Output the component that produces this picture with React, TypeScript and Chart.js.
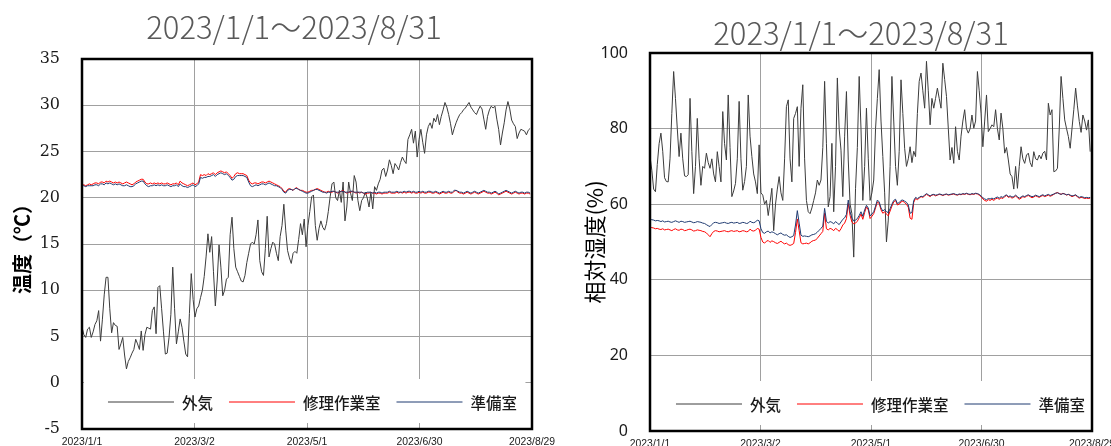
import React, { useEffect, useRef } from 'react';
import { Chart, registerables } from 'chart.js';

Chart.register(...registerables);

// ---------- data ----------
const chartTitle = '2023/1/1～2023/8/31';
const xTickLabels = ['2023/1/1', '2023/3/2', '2023/5/1', '2023/6/30', '2023/8/29'];
const xTickStepDays = 60;
const seriesNames = ['外気', '修理作業室', '準備室'];
const tempAxisTitle = '温度（℃）';
const rhAxisTitle = '相対湿度(%)';

// daily temperature (°C), 2023/1/1 .. 2023/8/31
const tempOutside = [
  6.0, 5.2, 4.9, 5.8, 6.0, 4.9, 5.5, 6.3, 6.7, 7.8,
  4.5, 6.8, 9.5, 11.4, 11.4, 8.0, 5.4, 6.5, 6.2, 6.1,
  3.6, 4.2, 4.9, 3.0, 1.5, 2.3, 2.7, 3.2, 3.6, 4.7,
  4.2, 3.6, 5.6, 3.5, 5.2, 6.0, 5.9, 5.8, 7.8, 8.2,
  5.3, 10.3, 10.5, 8.0, 5.5, 3.1, 3.2, 4.9, 7.4, 12.5,
  8.0, 4.2, 5.5, 6.9, 6.0, 4.5, 3.1, 2.8, 7.5, 11.8,
  9.0, 7.1, 8.0, 8.3, 9.2, 10.0, 11.5, 13.6, 16.1, 14.1,
  15.8, 12.0, 8.3, 11.0, 14.9, 12.5, 9.4, 10.0, 11.2, 11.4,
  16.0, 17.9, 14.5, 12.5, 12.0, 11.5, 11.0, 10.9, 11.6, 13.0,
  14.0, 15.0, 15.2, 15.0, 16.0, 17.6, 13.2, 12.0, 11.6, 14.5,
  18.0, 13.6, 14.5, 15.2, 15.0, 14.0, 13.2, 15.8, 17.0, 19.3,
  16.5, 14.3, 13.5, 12.9, 14.0, 14.2, 14.0, 15.5, 17.2, 16.0,
  17.7, 14.7, 17.0, 18.5, 20.1, 20.3, 17.0, 15.4, 16.7, 17.5,
  16.8, 16.5, 17.2, 18.5, 20.1, 21.5, 21.7, 20.0, 19.7, 20.8,
  19.5, 21.7, 17.5, 19.0, 21.7, 20.5, 19.7, 22.4, 21.7, 19.7,
  18.6, 19.7, 20.0, 20.6, 20.0, 19.0, 20.6, 18.8, 21.2, 20.8,
  21.5, 22.0, 23.0, 23.2, 22.3, 23.0, 24.1, 23.5, 22.6, 23.7,
  23.4, 23.0, 23.8, 24.4, 24.0, 23.7, 26.3, 26.8, 27.4, 25.9,
  27.2, 24.4, 26.3, 27.4, 26.0, 24.8, 26.8, 27.7, 28.1, 27.5,
  28.6, 28.2, 29.0, 27.9, 28.8, 29.5, 30.3, 29.8, 29.0, 28.0,
  26.8, 27.5, 28.1, 28.6, 29.0, 29.2, 29.5, 29.7, 30.0, 30.3,
  29.8, 29.5, 29.2, 29.0, 29.5, 29.9, 29.6, 28.5, 27.4, 28.8,
  29.5, 29.9, 29.7, 29.9, 28.5, 27.4, 25.7, 27.0, 28.1, 29.5,
  30.4, 29.6, 28.4, 28.0, 27.7, 26.4, 27.0, 27.4, 27.3, 27.2,
  26.8, 27.3, 27.5,
];

const tempRepair = [
  21.4, 21.4, 21.3, 21.4, 21.5, 21.4, 21.5, 21.6, 21.6, 21.5,
  21.7, 21.7, 21.6, 21.8, 21.7, 21.8, 21.7, 21.6, 21.7, 21.6,
  21.7, 21.6, 21.5, 21.6, 21.7, 21.6, 21.5, 21.4, 21.5, 21.7,
  21.8, 21.9, 22.0, 22.0, 21.7, 21.5, 21.5, 21.6, 21.5, 21.6,
  21.5, 21.6, 21.5, 21.6, 21.5, 21.5, 21.6, 21.5, 21.4, 21.5,
  21.5, 21.6, 21.4, 21.8, 21.6, 21.5, 21.4, 21.3, 21.4, 21.5,
  21.6, 21.4, 21.5, 21.7, 22.5, 22.4, 22.5, 22.4, 22.6, 22.5,
  22.6, 22.7, 22.5, 22.7, 22.8, 22.9, 22.8, 22.7, 22.8, 22.6,
  22.4, 22.1, 22.3, 22.6, 22.7, 22.6, 22.6, 22.6, 22.5, 22.4,
  21.9, 21.6, 21.5, 21.6, 21.6, 21.5, 21.6, 21.7, 21.7, 21.6,
  21.7, 21.8, 21.7, 21.6, 21.5, 21.4, 21.3, 21.2, 21.0, 20.7,
  20.6, 20.9, 21.0, 20.9, 20.8, 21.0, 21.1, 20.9, 20.8, 20.8,
  20.7, 20.6, 20.6, 20.7, 20.8, 20.8, 20.9, 21.0, 20.9, 20.8,
  20.7, 20.6, 20.6, 20.7, 20.6, 20.6, 20.7, 20.6, 20.5, 20.6,
  20.7, 20.8, 20.6, 20.5, 20.6, 20.6, 20.7, 20.6, 20.5, 20.6,
  20.5, 20.6, 20.5, 20.4, 20.5, 20.5, 20.6, 20.5, 20.5, 20.4,
  20.5, 20.5, 20.4, 20.5, 20.5, 20.5, 20.6, 20.5, 20.5, 20.5,
  20.6, 20.5, 20.6, 20.5, 20.6, 20.5, 20.6, 20.6, 20.5, 20.6,
  20.5, 20.5, 20.6, 20.5, 20.6, 20.5, 20.5, 20.6, 20.6, 20.5,
  20.5, 20.6, 20.5, 20.4, 20.5, 20.6, 20.5, 20.5, 20.6, 20.5,
  20.5, 20.7, 20.8, 20.6, 20.5, 20.5, 20.4, 20.5, 20.6, 20.5,
  20.4, 20.5, 20.6, 20.5, 20.4, 20.5, 20.6, 20.7, 20.6, 20.5,
  20.5, 20.4, 20.5, 20.6, 20.5, 20.3, 20.4, 20.5, 20.6, 20.7,
  20.6, 20.5, 20.4, 20.5, 20.6, 20.5, 20.4, 20.5, 20.5, 20.4,
  20.5, 20.5, 20.4,
];

const tempPrep = [
  21.3, 21.3, 21.2, 21.3, 21.3, 21.3, 21.3, 21.4, 21.4, 21.3,
  21.5, 21.5, 21.4, 21.6, 21.5, 21.6, 21.5, 21.4, 21.5, 21.4,
  21.5, 21.4, 21.3, 21.3, 21.4, 21.3, 21.2, 21.2, 21.3, 21.5,
  21.6, 21.7, 21.8, 21.8, 21.5, 21.3, 21.2, 21.3, 21.3, 21.4,
  21.3, 21.4, 21.3, 21.4, 21.3, 21.3, 21.4, 21.3, 21.2, 21.3,
  21.3, 21.4, 21.2, 21.5, 21.3, 21.2, 21.2, 21.1, 21.2, 21.3,
  21.4, 21.2, 21.3, 21.5, 22.2, 22.1, 22.2, 22.2, 22.3, 22.3,
  22.4, 22.5, 22.3, 22.5, 22.6, 22.7, 22.6, 22.5, 22.6, 22.4,
  22.2, 21.9, 22.0, 22.3, 22.4, 22.4, 22.4, 22.4, 22.3, 22.2,
  21.7, 21.3, 21.2, 21.3, 21.4, 21.3, 21.4, 21.5, 21.5, 21.4,
  21.5, 21.6, 21.5, 21.4, 21.3, 21.3, 21.2, 21.1, 20.9, 20.6,
  20.5, 20.8, 20.9, 20.9, 20.8, 21.0, 21.0, 20.9, 20.8, 20.7,
  20.6, 20.5, 20.5, 20.6, 20.7, 20.8, 20.9, 20.9, 20.8, 20.7,
  20.6, 20.6, 20.5, 20.6, 20.6, 20.7, 20.7, 20.6, 20.6, 20.6,
  20.7, 20.7, 20.6, 20.6, 20.6, 20.7, 20.7, 20.6, 20.6, 20.6,
  20.6, 20.6, 20.5, 20.5, 20.6, 20.6, 20.6, 20.5, 20.6, 20.5,
  20.6, 20.6, 20.5, 20.6, 20.6, 20.6, 20.7, 20.6, 20.6, 20.6,
  20.7, 20.6, 20.6, 20.6, 20.7, 20.6, 20.7, 20.7, 20.6, 20.7,
  20.6, 20.6, 20.7, 20.6, 20.7, 20.6, 20.6, 20.7, 20.7, 20.6,
  20.6, 20.7, 20.6, 20.5, 20.6, 20.7, 20.6, 20.6, 20.7, 20.6,
  20.6, 20.8, 20.8, 20.7, 20.6, 20.6, 20.5, 20.6, 20.7, 20.6,
  20.5, 20.6, 20.7, 20.6, 20.5, 20.6, 20.7, 20.8, 20.7, 20.6,
  20.6, 20.5, 20.6, 20.7, 20.6, 20.4, 20.5, 20.6, 20.7, 20.8,
  20.7, 20.6, 20.5, 20.6, 20.7, 20.6, 20.5, 20.6, 20.6, 20.5,
  20.6, 20.6, 20.5,
];

// daily relative humidity (%), 2023/1/1 .. 2023/8/31
const rhOutside = [
  72.6, 69.0, 64.0, 63.3, 70.5, 76.0, 78.8, 74.0, 67.0, 66.0,
  65.9, 72.0, 84.0, 95.1, 88.0, 80.0, 72.6, 78.8, 72.0, 67.5,
  67.3, 67.8, 88.0, 74.0, 62.8, 70.0, 82.7, 72.0, 65.0, 70.0,
  69.5, 73.5, 71.0, 69.5, 72.0, 68.0, 65.9, 73.9, 70.0, 65.9,
  84.5, 76.0, 71.7, 88.9, 75.0, 62.0, 63.5, 65.5, 72.0, 87.2,
  72.0, 63.7, 66.0, 70.0, 88.9, 78.0, 72.6, 68.0, 65.9, 62.8,
  75.7, 63.0, 62.4, 60.0, 61.0, 57.0, 60.5, 64.2, 53.0, 60.0,
  64.0, 67.3, 63.0, 61.0, 72.0, 85.8, 87.6, 72.0, 65.9, 82.7,
  84.0, 85.8, 70.0, 85.4, 91.6, 72.0, 61.0, 58.0, 57.5, 59.0,
  61.0, 63.0, 66.4, 65.0, 66.4, 75.0, 92.5, 76.0, 59.3, 62.0,
  76.1, 58.0, 70.0, 93.4, 80.0, 74.3, 62.0, 78.0, 89.8, 71.7,
  60.0, 57.5, 46.0, 64.2, 75.0, 93.8, 80.0, 61.0, 70.0, 85.4,
  72.0, 61.0, 63.0, 66.4, 80.0, 88.0, 95.6, 82.0, 72.6, 63.0,
  50.0, 55.8, 70.0, 93.8, 82.0, 70.0, 65.0, 74.0, 92.9, 84.0,
  74.8, 70.0, 72.0, 75.2, 71.0, 74.0, 72.6, 84.0, 92.5, 94.7,
  90.0, 85.4, 97.8, 90.0, 81.0, 88.0, 85.4, 88.0, 90.7, 88.0,
  85.4, 97.3, 93.0, 88.5, 80.0, 71.7, 75.0, 70.8, 80.5, 74.0,
  71.7, 78.0, 82.0, 85.0, 80.0, 78.8, 80.0, 83.6, 80.1, 82.0,
  95.1, 90.0, 84.1, 75.2, 82.0, 88.9, 79.2, 80.0, 81.0, 80.5,
  85.0, 80.0, 77.0, 84.1, 80.0, 73.5, 75.0, 71.7, 68.0, 67.3,
  64.0, 70.0, 64.2, 70.0, 75.2, 72.0, 70.8, 73.0, 73.5, 71.0,
  69.9, 73.9, 72.0, 71.7, 73.0, 72.0, 73.5, 74.0, 71.7, 86.7,
  83.6, 85.0, 68.6, 68.8, 69.5, 80.0, 93.8, 88.0, 82.3, 80.0,
  77.9, 74.8, 80.0, 85.0, 90.7, 86.0, 81.9, 79.0, 83.6, 82.0,
  79.6, 82.3, 73.9,
];

const rhRepair = [
  53.9, 53.8, 53.7, 53.5, 53.6, 53.4, 53.3, 53.5, 53.2, 53.3,
  53.4, 53.2, 53.0, 53.3, 53.5, 53.2, 53.1, 53.4, 53.3, 53.0,
  53.1, 53.3, 53.4, 53.2, 52.9, 53.0, 53.2, 53.1, 53.0, 52.8,
  52.7, 52.4, 51.9, 51.4, 52.2, 52.8, 53.0, 52.9, 52.7, 52.8,
  52.9, 53.0, 52.8, 52.7, 52.9, 53.0, 52.8, 52.9, 53.0, 52.7,
  52.8, 53.0, 52.9, 52.7, 52.8, 53.4, 53.0, 52.9, 53.1, 53.6,
  53.4, 51.2, 50.0, 49.7, 50.2, 50.4, 49.9, 50.3, 50.1, 49.8,
  49.6, 49.9, 50.2, 49.8, 49.5, 49.7, 49.3, 49.1, 49.3, 49.6,
  52.5, 56.1, 53.0, 49.8, 49.5, 49.6, 49.7, 49.5, 49.8, 50.2,
  50.4, 50.5, 51.0, 51.6, 52.2, 52.8, 57.6, 53.5, 53.2, 53.6,
  53.4, 53.0, 53.6, 53.3, 52.8, 53.5, 54.5, 55.0, 56.2, 60.2,
  57.0, 55.3, 54.8, 55.0, 55.5, 56.4, 57.4, 56.0, 57.8, 59.3,
  58.5, 56.2, 56.8, 57.5, 59.0, 60.6, 60.2, 58.5, 57.6, 58.0,
  57.4, 56.9, 58.2, 59.5, 60.6, 61.0, 59.8, 60.0, 60.6, 60.8,
  60.4, 60.0, 59.2, 56.3, 56.0, 60.5, 61.5, 61.2, 61.6, 62.0,
  61.8, 62.2, 62.6, 62.3, 62.0, 62.4, 62.5, 62.2, 62.4, 62.6,
  62.5, 62.3, 62.5, 62.6, 62.4, 62.5, 62.6, 62.7, 62.5, 62.4,
  62.6, 62.5, 62.7, 62.6, 62.8, 62.6, 62.5, 62.7, 62.6, 62.8,
  62.7, 62.4, 62.0, 61.4, 61.0, 60.8, 61.2, 61.0, 61.3, 61.0,
  61.4, 61.6, 61.3, 61.7, 61.5, 62.0, 62.3, 61.8, 62.0, 61.6,
  61.8, 62.2, 61.7, 61.3, 61.6, 62.0, 61.8, 62.1, 62.3, 62.0,
  61.7, 61.9, 62.2, 62.0, 61.8, 62.1, 62.3, 62.0, 62.2, 62.4,
  62.1, 62.3, 62.6, 62.9, 63.1, 62.8, 62.6, 62.9, 62.7, 62.4,
  62.6, 62.3, 62.0, 62.2, 62.4, 61.9, 61.6, 61.8, 61.7, 61.5,
  61.6, 61.5, 61.6,
];

const rhPrep = [
  56.0, 55.9, 55.8, 55.6, 55.7, 55.6, 55.4, 55.6, 55.3, 55.4,
  55.5, 55.3, 55.2, 55.4, 55.6, 55.4, 55.2, 55.5, 55.4, 55.2,
  55.3, 55.4, 55.5, 55.3, 55.1, 55.2, 55.4, 55.3, 55.2, 55.0,
  54.9, 54.6, 54.3, 54.1, 54.6, 55.1, 55.2, 55.1, 54.9, 55.0,
  55.1, 55.2, 55.0, 54.9, 55.1, 55.2, 55.0, 55.1, 55.2, 54.9,
  55.0, 55.2, 55.1, 54.9, 55.0, 55.5, 55.2, 55.1, 55.3, 55.8,
  55.6, 53.5, 52.5, 52.3, 52.7, 52.9, 52.4, 52.7, 52.5, 52.2,
  51.9, 52.2, 52.4, 52.0, 51.8, 51.9, 51.5, 51.2, 51.4, 51.7,
  54.5, 58.3, 55.0, 51.8, 51.5, 51.6, 51.5, 51.4, 51.6, 51.9,
  52.0, 52.2, 52.6, 53.1, 53.6, 54.2, 58.9, 55.5, 55.0, 55.4,
  55.2, 54.8, 55.4, 55.0, 54.6, 55.3, 56.0, 56.4, 57.3, 61.1,
  58.0, 56.3, 55.6, 55.8, 56.2, 57.0, 58.0, 56.8, 58.5, 59.7,
  59.0, 56.9, 57.4, 58.0, 59.5, 61.1, 60.6, 59.0, 58.2, 58.6,
  58.0, 57.8, 58.8, 60.0, 61.0, 61.3, 60.2, 60.4, 61.0, 61.1,
  60.8, 60.5, 59.8, 57.6, 57.8, 61.0, 61.8, 61.5, 61.8, 62.1,
  62.0, 62.4, 62.8, 62.5, 62.2, 62.5, 62.6, 62.4, 62.5, 62.7,
  62.6, 62.4, 62.6, 62.7, 62.5, 62.6, 62.7, 62.8, 62.6, 62.5,
  62.7, 62.6, 62.8, 62.7, 62.9, 62.7, 62.6, 62.8, 62.7, 62.9,
  62.8, 62.6, 62.2, 61.7, 61.4, 61.2, 61.5, 61.4, 61.6, 61.4,
  61.7, 61.9, 61.6, 62.0, 61.8, 62.2, 62.5, 62.0, 62.2, 61.9,
  62.0, 62.4, 62.0, 61.6, 61.9, 62.2, 62.0, 62.3, 62.5, 62.2,
  62.0, 62.1, 62.4, 62.2, 62.0, 62.3, 62.5, 62.2, 62.4, 62.6,
  62.3, 62.5, 62.7, 62.9, 63.0, 62.8, 62.6, 62.8, 62.7, 62.5,
  62.6, 62.4, 62.2, 62.3, 62.5, 62.1, 61.8, 62.0, 61.9, 61.7,
  61.8, 61.7, 61.8,
];

const tempAxisRange = [-5, 35, 5];
const rhAxisRange = [0, 100, 20];
const xAxisMaxDays = 243;

// ---------- styling ----------
const lineColors = ['#3c3c3c', '#ff0000', '#1f3a70'];
const legendFont = '500 15.5px "Noto Sans CJK JP", sans-serif';

const insideLegend = {
  id: 'insideLegend',
  beforeDatasetsDraw(chart: any) {
    const { ctx, chartArea: a, scales } = chart;
    const xr = scales.x.getPixelForValue(xTickStepDays * (xTickLabels.length - 1));
    const top = a.bottom - 50;
    const bot = a.bottom - 6;
    ctx.save();
    ctx.fillStyle = '#ffffff';
    ctx.fillRect(a.left + 2, top, xr - 1 - (a.left + 2), bot - top);
    ctx.font = legendFont;
    const names = chart.data.datasets.map((d: any) => d.label);
    const widths = names.map((n: string) => ctx.measureText(n).width);
    const lineLen = 66;
    const gapText = 8;
    const gapItem = 16;
    const total = names.length * (lineLen + gapText) + widths.reduce((s: number, w: number) => s + w, 0) + gapItem * (names.length - 1);
    let x = a.left + 435 - total;
    const y = Math.round(a.bottom - 27);
    ctx.textBaseline = 'middle';
    ctx.textAlign = 'left';
    names.forEach((n: string, i: number) => {
      ctx.strokeStyle = chart.data.datasets[i].borderColor;
      ctx.lineWidth = 1;
      ctx.beginPath();
      ctx.moveTo(x, y);
      ctx.lineTo(x + lineLen, y);
      ctx.stroke();
      x += lineLen + gapText;
      ctx.fillStyle = '#1a1a1a';
      ctx.fillText(n, x, y + 1);
      x += widths[i] + gapItem;
    });
    ctx.restore();
  },
};

const plotFrame = {
  id: 'plotFrame',
  afterDatasetsDraw(chart: any) {
    const { ctx, chartArea: a } = chart;
    ctx.save();
    ctx.strokeStyle = '#000000';
    ctx.lineWidth = 2.5;
    ctx.strokeRect(a.left, a.top, a.right - a.left, a.bottom - a.top);
    ctx.restore();
  },
};

type Cfg = {
  series: number[][];
  range: number[];
  yTitle: string;
  yTickFont: any;
  yTitleFont: any;
  yTitlePad: number;
  yAxisWidth: number;
  rightSpace: number;
  xAxisHeight: number;
  titlePadTop: number;
  titlePadBottom: number;
};

function buildChart(canvas: HTMLCanvasElement, cfg: Cfg) {
  return new Chart(canvas, {
    type: 'line',
    data: {
      datasets: cfg.series.map((vals, i) => ({
        label: seriesNames[i],
        data: vals.map((v, d) => ({ x: d, y: v })),
        borderColor: lineColors[i],
        backgroundColor: lineColors[i],
        borderWidth: 1,
        pointRadius: 0,
        tension: 0,
        fill: false,
        order: i === 0 ? 2 : i === 1 ? 1 : 0,
      })),
    },
    options: {
      responsive: false,
      animation: false,
      events: [],
      layout: { padding: 0 },
      plugins: {
        legend: { display: false },
        tooltip: { enabled: false },
        title: {
          display: true,
          text: chartTitle,
          color: '#595959',
          font: { family: '"Noto Sans CJK JP", sans-serif', size: 31, weight: 300, lineHeight: 1.2 },
          padding: { top: cfg.titlePadTop, bottom: cfg.titlePadBottom },
        },
      },
      scales: {
        x: {
          type: 'linear',
          min: 0,
          max: xAxisMaxDays,
          border: { display: false },
          grid: { color: '#a0a0a0', lineWidth: 1, drawTicks: false },
          ticks: {
            stepSize: xTickStepDays,
            includeBounds: false,
            autoSkip: false,
            maxRotation: 0,
            padding: 7,
            color: '#1a1a1a',
            font: { family: '"Liberation Sans", Arial, sans-serif', size: 10.4 },
            callback: (v: any) => xTickLabels[Math.round(Number(v) / xTickStepDays)] ?? '',
          },
          afterFit: (s: any) => {
            s.height = cfg.xAxisHeight;
            s.paddingLeft = 0;
            s.paddingRight = 0;
          },
        },
        y: {
          min: cfg.range[0],
          max: cfg.range[1],
          border: { display: false },
          grid: { color: '#a0a0a0', lineWidth: 1, drawTicks: false },
          ticks: {
            stepSize: cfg.range[2],
            padding: 22,
            color: '#1a1a1a',
            font: cfg.yTickFont,
          },
          title: {
            display: true,
            text: cfg.yTitle,
            color: '#000000',
            font: cfg.yTitleFont,
            padding: { top: cfg.yTitlePad, bottom: 0 },
          },
          afterFit: (s: any) => {
            s.width = cfg.yAxisWidth;
            s.paddingTop = 0;
            s.paddingBottom = 0;
          },
        },
        // empty spacer on the right, so that the chart title centres as in the original
        spacer: {
          type: 'linear',
          position: 'right',
          display: true,
          border: { display: false },
          grid: { display: false, drawOnChartArea: false },
          ticks: { display: false },
          afterFit: (s: any) => {
            s.width = cfg.rightSpace;
            s.paddingTop = 0;
            s.paddingBottom = 0;
          },
        },
      },
    },
    plugins: [insideLegend, plotFrame],
  } as any);
}

export default function App() {
  const leftRef = useRef<HTMLCanvasElement>(null);
  const rightRef = useRef<HTMLCanvasElement>(null);

  useEffect(() => {
    const c1 = buildChart(leftRef.current!, {
      series: [tempOutside, tempRepair, tempPrep],
      range: tempAxisRange,
      yTitle: tempAxisTitle,
      yTickFont: { family: '"DejaVu Serif", serif', size: 16 },
      yTitleFont: { family: '"Noto Sans CJK JP", sans-serif', size: 20, weight: 'bold', lineHeight: 1.2 },
      yTitlePad: 10,
      yAxisWidth: 82,
      rightSpace: 56,
      xAxisHeight: 17,
      titlePadTop: 8.4,
      titlePadBottom: 13.4,
    });
    const c2 = buildChart(rightRef.current!, {
      series: [rhOutside, rhRepair, rhPrep],
      range: rhAxisRange,
      yTitle: rhAxisTitle,
      yTickFont: { family: '"Noto Sans", sans-serif', size: 16 },
      yTitleFont: { family: '"Noto Sans CJK JP", sans-serif', size: 22, weight: 'normal', lineHeight: 1.2 },
      yTitlePad: 6.8,
      yAxisWidth: 75,
      rightSpace: 55,
      xAxisHeight: 15,
      titlePadTop: 14.4,
      titlePadBottom: 1.4,
    });
    return () => {
      c1.destroy();
      c2.destroy();
    };
  }, []);

  return (
    <div style={{ position: 'absolute', left: 0, top: 0, width: 1111, height: 446, overflow: 'hidden', background: '#ffffff' }}>
      <canvas ref={leftRef} width={588} height={446} style={{ position: 'absolute', left: 0, top: 0 }} />
      <canvas ref={rightRef} width={572} height={446} style={{ position: 'absolute', left: 575, top: 0 }} />
    </div>
  );
}
